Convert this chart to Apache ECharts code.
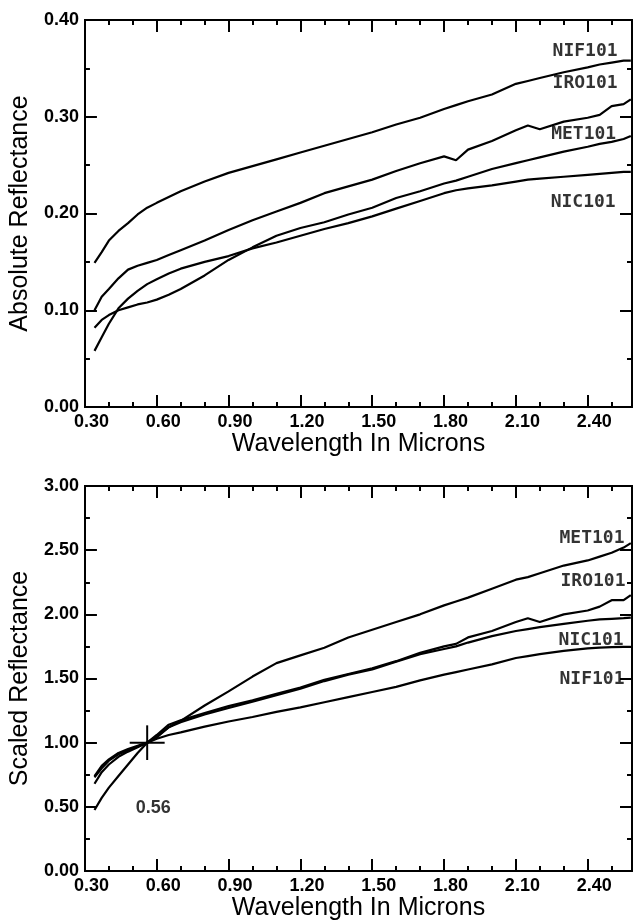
<!DOCTYPE html>
<html>
<head>
<meta charset="utf-8">
<script src="https://cdn.jsdelivr.net/npm/echarts@6/dist/echarts.min.js"></script>
<style>
html,body{margin:0;padding:0;background:#fff;}
#chart{width:635px;height:922px;}
</style>
</head>
<body>
<div id="chart"></div>
<script>
// ---- data ----
const wavelengths = [0.34,0.37,0.40,0.44,0.48,0.52,0.56,0.60,0.65,0.70,0.80,0.90,1.00,1.10,1.20,1.30,1.40,1.50,1.60,1.70,1.80,1.85,1.90,2.00,2.10,2.15,2.20,2.30,2.40,2.45,2.50,2.55,2.58];

// top panel: absolute reflectance
const absNIF101 = [0.149,0.160,0.172,0.182,0.190,0.199,0.206,0.211,0.217,0.223,0.233,0.242,0.249,0.256,0.263,0.270,0.277,0.284,0.292,0.299,0.308,0.312,0.316,0.323,0.334,0.337,0.340,0.346,0.351,0.354,0.356,0.358,0.358];
const absIRO101 = [0.100,0.114,0.122,0.133,0.142,0.146,0.149,0.152,0.157,0.162,0.172,0.183,0.193,0.202,0.211,0.221,0.228,0.235,0.244,0.252,0.259,0.255,0.266,0.275,0.286,0.291,0.287,0.295,0.299,0.302,0.311,0.313,0.318];
const absMET101 = [0.082,0.090,0.095,0.100,0.103,0.106,0.108,0.111,0.116,0.122,0.136,0.152,0.165,0.177,0.185,0.191,0.199,0.206,0.216,0.223,0.231,0.234,0.238,0.246,0.252,0.255,0.258,0.264,0.269,0.272,0.274,0.277,0.280];
const absNIC101 = [0.058,0.072,0.086,0.102,0.112,0.120,0.127,0.132,0.138,0.143,0.150,0.156,0.164,0.170,0.177,0.184,0.190,0.197,0.205,0.213,0.221,0.224,0.226,0.229,0.233,0.235,0.236,0.238,0.240,0.241,0.242,0.243,0.243];

// bottom panel: scaled reflectance (1.00 at 0.56 microns)
const sclMET101 = [0.74,0.82,0.87,0.92,0.95,0.975,1.00,1.04,1.12,1.17,1.29,1.40,1.515,1.62,1.68,1.74,1.82,1.88,1.94,2.00,2.07,2.10,2.13,2.20,2.27,2.29,2.32,2.38,2.42,2.45,2.48,2.52,2.555];
const sclIRO101 = [0.68,0.77,0.83,0.89,0.93,0.965,1.00,1.06,1.14,1.175,1.23,1.285,1.33,1.38,1.43,1.49,1.535,1.58,1.635,1.70,1.75,1.77,1.82,1.87,1.94,1.97,1.94,2.00,2.03,2.06,2.11,2.11,2.15];
const sclNIC101 = [0.475,0.57,0.65,0.74,0.83,0.92,1.00,1.05,1.12,1.16,1.22,1.27,1.32,1.37,1.42,1.48,1.53,1.57,1.63,1.69,1.73,1.75,1.78,1.83,1.87,1.885,1.90,1.925,1.95,1.96,1.965,1.97,1.975];
const sclNIF101 = [0.73,0.80,0.86,0.91,0.94,0.97,1.00,1.03,1.06,1.08,1.125,1.165,1.20,1.24,1.275,1.315,1.355,1.395,1.435,1.485,1.53,1.55,1.57,1.61,1.66,1.675,1.69,1.715,1.735,1.74,1.745,1.747,1.747];

const seriesNames = ['NIF101','IRO101','MET101','NIC101'];
// label anchors (data space)
const topLabels = [['NIF101',2.389,0.368],['IRO101',2.389,0.3346],['MET101',2.383,0.2815],['NIC101',2.381,0.2112]];
const bottomLabels = [['MET101',2.418,2.595],['IRO101',2.422,2.26],['NIC101',2.414,1.796],['NIF101',2.418,1.492]];
const normPoint = [0.56, 1.00];
const normLabel = ['0.56', 0.585, 0.491];

// ---- chart ----
const X_MIN = 0.3, X_MAX = 2.585;
const BLACK = '#000';
const tickFont = {fontFamily:'Liberation Sans, Arial, sans-serif', fontWeight:'bold', fontSize:18, color:BLACK};
const titleFont = {fontFamily:'Liberation Sans, Arial, sans-serif', fontWeight:'normal', fontSize:25, color:BLACK};
const monoFont = {fontFamily:'DejaVu Sans Mono, monospace', fontWeight:'bold', fontSize:18, color:BLACK};

function fmt2(v){ return (Math.round(v*100)/100).toFixed(2); }
function xMajorFmt(v){
  const k = Math.round(v/0.3);
  if (Math.abs(v - k*0.3) > 1e-6) return '';
  return fmt2(v);
}

function xAxes(gridIndex, withTitle){
  const line = {show:true, lineStyle:{color:BLACK, width:2}};
  const mk = (position, major, labels) => ({
    type:'value', gridIndex, position, min:X_MIN, max:X_MAX,
    interval: major ? 0.3 : 0.1,
    axisLine: line,
    axisTick:{show:true, inside:true, length: major ? 12 : 5, lineStyle:{color:BLACK, width:2}},
    axisLabel: labels ? Object.assign({show:true, margin:6, padding:[0,0,0,13], formatter:xMajorFmt, showMinLabel:true, showMaxLabel:false}, tickFont) : {show:false},
    splitLine:{show:false},
    name: (labels && withTitle) ? 'Wavelength In Microns' : '',
    nameLocation:'middle', nameGap:25,
    nameTextStyle: titleFont
  });
  return [mk('bottom', true, true), mk('bottom', false, false), mk('top', true, false), mk('top', false, false)];
}

function yAxes(gridIndex, min, max, interval, title){
  const mk = (position, labels) => ({
    type:'value', gridIndex, position, min, max, interval,
    axisLine:{show:true, lineStyle:{color:BLACK, width:2}},
    axisTick:{show:true, inside:true, length:12, lineStyle:{color:BLACK, width:2}},
    minorTick:{show:true, splitNumber:2, length:5, lineStyle:{color:BLACK, width:2}},
    axisLabel: labels ? Object.assign({show:true, margin:6, formatter:fmt2}, tickFont) : {show:false},
    splitLine:{show:false}, minorSplitLine:{show:false},
    name: labels ? title : '',
    nameLocation:'middle', nameGap:46, nameRotate:90,
    nameTextStyle: titleFont
  });
  return [mk('left', true), mk('right', false)];
}

function zip(vals){ return wavelengths.map((w,i)=>[w, vals[i]]); }

function curve(name, vals, xi, yi){
  return {type:'line', name, xAxisIndex:xi, yAxisIndex:yi, data:zip(vals),
    showSymbol:false, symbol:'none', smooth:false,
    lineStyle:{color:BLACK, width:2.2}, silent:true, z:3};
}
function labelSeries(list, xi, yi){
  return {type:'scatter', xAxisIndex:xi, yAxisIndex:yi, symbolSize:1,
    itemStyle:{color:'rgba(0,0,0,0)'}, silent:true, z:5,
    data:list.map(l=>({name:l[0], value:[l[1], l[2]]})),
    label:Object.assign({show:true, position:'inside', formatter:p=>p.name, align:'center', verticalAlign:'middle'}, monoFont)};
}

const halfW = 0.073, halfH = 0.135;
const crossSeries = [
  {type:'line', xAxisIndex:4, yAxisIndex:2, symbol:'none', lineStyle:{color:BLACK, width:2}, silent:true,
   data:[[normPoint[0]-halfW, normPoint[1]],[normPoint[0]+halfW, normPoint[1]]]},
  {type:'line', xAxisIndex:4, yAxisIndex:2, symbol:'none', lineStyle:{color:BLACK, width:2}, silent:true,
   data:[[normPoint[0], normPoint[1]-halfH],[normPoint[0], normPoint[1]+halfH]]},
  {type:'scatter', xAxisIndex:4, yAxisIndex:2, symbolSize:1, itemStyle:{color:'rgba(0,0,0,0)'}, silent:true,
   data:[{name:normLabel[0], value:[normLabel[1], normLabel[2]]}],
   label:Object.assign({show:true, position:'inside', formatter:p=>p.name, align:'center', verticalAlign:'middle'}, tickFont)}
];

const option = {
  animation:false,
  backgroundColor:'#fff',
  grid:[
    {left:84, top:20, width:548, height:387, containLabel:false},
    {left:84, top:486, width:548, height:385, containLabel:false}
  ],
  xAxis: xAxes(0, true).concat(xAxes(1, true)),
  yAxis: yAxes(0, 0, 0.4, 0.1, 'Absolute Reflectance').concat(yAxes(1, 0, 3.0, 0.5, 'Scaled Reflectance')),
  series:[
    curve('NIF101', absNIF101, 0, 0),
    curve('IRO101', absIRO101, 0, 0),
    curve('MET101', absMET101, 0, 0),
    curve('NIC101', absNIC101, 0, 0),
    labelSeries(topLabels, 0, 0),
    curve('MET101', sclMET101, 4, 2),
    curve('IRO101', sclIRO101, 4, 2),
    curve('NIC101', sclNIC101, 4, 2),
    curve('NIF101', sclNIF101, 4, 2),
    labelSeries(bottomLabels, 4, 2)
  ].concat(crossSeries)
};

const chart = echarts.init(document.getElementById('chart'), null, {renderer:'canvas'});
chart.setOption(option);
</script>
</body>
</html>
